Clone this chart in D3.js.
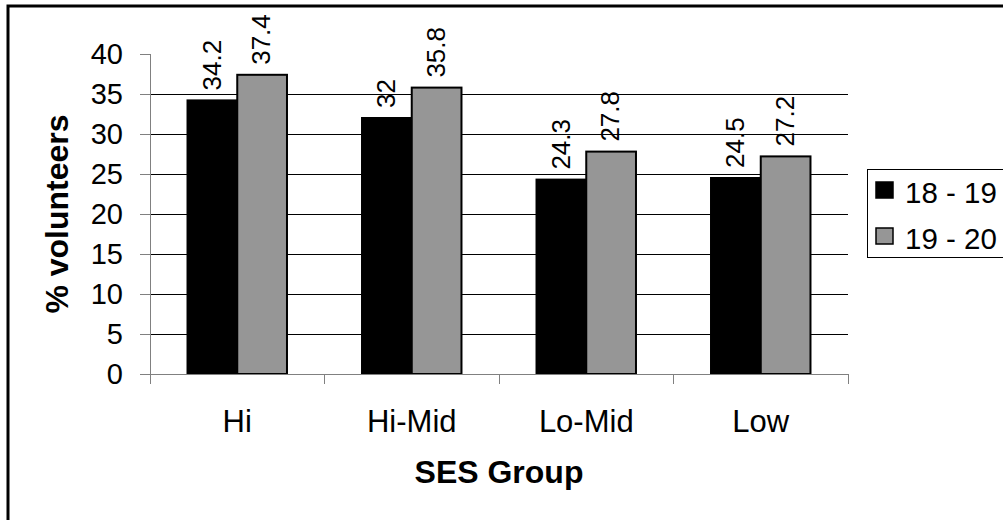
<!DOCTYPE html>
<html>
<head>
<meta charset="utf-8">
<script src="https://cdn.jsdelivr.net/npm/d3@7"></script>
<style>
  html, body { margin: 0; padding: 0; background: #fff; }
  svg { display: block; font-family: Arial, "Liberation Sans", sans-serif; }
</style>
</head>
<body>
<svg id="chart" width="1003" height="520"></svg>
<script>
const categories = ["Hi", "Hi-Mid", "Lo-Mid", "Low"];
const seriesNames = ["18 - 19", "19 - 20"];
const values1819 = [34.2, 32, 24.3, 24.5];
const values1920 = [37.4, 35.8, 27.8, 27.2];
const yTicks = [0, 5, 10, 15, 20, 25, 30, 35, 40];
const seriesColors = ["#000000", "#969696"];

const svg = d3.select("#chart");
const FONT = "Arial, 'Liberation Sans', sans-serif";

// outer frame
svg.append("rect").attr("x", 8).attr("y", 6).attr("width", 1100).attr("height", 600)
  .attr("fill", "none").attr("stroke", "#000").attr("stroke-width", 3);

const x0 = 150, x1 = 848, yTop = 54, yBot = 374;
const y = d3.scaleLinear().domain([0, 40]).range([yBot, yTop]);
const x = d3.scaleBand().domain(categories).range([x0, x1]).paddingInner(0.43).paddingOuter(0.215);
const xs = d3.scaleBand().domain(seriesNames).range([0, x.bandwidth()]);

// gridlines
svg.append("g").selectAll("line").data(yTicks.filter(t => t > 0 && t < 40)).join("line")
  .attr("x1", x0).attr("x2", x1).attr("y1", d => y(d)).attr("y2", d => y(d))
  .attr("stroke", "#000").attr("stroke-width", 1).attr("shape-rendering", "crispEdges");

// y axis
const yAxis = svg.append("g").attr("transform", `translate(${x0},0)`)
  .call(d3.axisLeft(y).tickValues(yTicks).tickSize(10).tickPadding(17));
yAxis.select(".domain").attr("stroke", "#808080").attr("shape-rendering", "crispEdges");
yAxis.selectAll(".tick line").attr("stroke", "#808080").attr("shape-rendering", "crispEdges");
yAxis.selectAll("text").attr("font-size", 29).attr("fill", "#000").attr("font-family", FONT);

// bars
const groups = svg.append("g").selectAll("g").data(categories).join("g")
  .attr("transform", d => `translate(${x(d)},0)`);
const seriesData = [values1819, values1920];
groups.each(function(cat, ci) {
  const g = d3.select(this);
  seriesNames.forEach((s, si) => {
    const v = seriesData[si][ci];
    g.append("rect")
      .attr("x", xs(s)).attr("y", y(v)).attr("width", xs.bandwidth()).attr("height", y(0) - y(v))
      .attr("fill", seriesColors[si]).attr("stroke", "#000").attr("stroke-width", 2);
    g.append("text")
      .attr("transform", `translate(${xs(s) + xs.bandwidth() / 2 - 1},${y(v) - 10}) rotate(-90)`)
      .attr("dy", "0.36em").attr("text-anchor", "start")
      .attr("font-size", 26).attr("fill", "#000").text(v);
  });
});

// x axis
const xAxis = svg.append("g").attr("transform", `translate(0,${yBot})`)
  .call(d3.axisBottom(x).tickSize(0).tickPadding(0));
xAxis.select(".domain").attr("stroke", "#808080").attr("shape-rendering", "crispEdges");
xAxis.selectAll("text").attr("font-size", 31).attr("fill", "#000").attr("font-family", FONT)
  .attr("y", 58).attr("dy", null);
// category boundary ticks
const bounds = categories.map(c => x(c) - x.step() * x.paddingInner() / 2).concat([x1]);
svg.append("g").selectAll("line").data(bounds).join("line")
  .attr("x1", d => d).attr("x2", d => d).attr("y1", yBot).attr("y2", yBot + 10)
  .attr("stroke", "#808080").attr("shape-rendering", "crispEdges");

// axis titles
svg.append("text").attr("transform", `translate(68,${(yTop + yBot) / 2}) rotate(-90)`)
  .attr("text-anchor", "middle").attr("font-size", 32).attr("font-weight", "bold").text("% volunteers");
svg.append("text").attr("x", (x0 + x1) / 2).attr("y", 483)
  .attr("text-anchor", "middle").attr("font-size", 32).attr("font-weight", "bold").text("SES Group");

// legend
const lg = svg.append("g");
lg.append("rect").attr("x", 867.5).attr("y", 169.5).attr("width", 200).attr("height", 88)
  .attr("fill", "#fff").attr("stroke", "#000").attr("stroke-width", 1);
seriesNames.forEach((s, i) => {
  const yy = 182 + i * 46;
  lg.append("rect").attr("x", 876).attr("y", yy).attr("width", 17).attr("height", 16)
    .attr("fill", seriesColors[i]).attr("stroke", "#000").attr("stroke-width", 1.5);
  lg.append("text").attr("x", 905).attr("y", yy + 21).attr("font-size", 29.5).text(s);
});
</script>
</body>
</html>
